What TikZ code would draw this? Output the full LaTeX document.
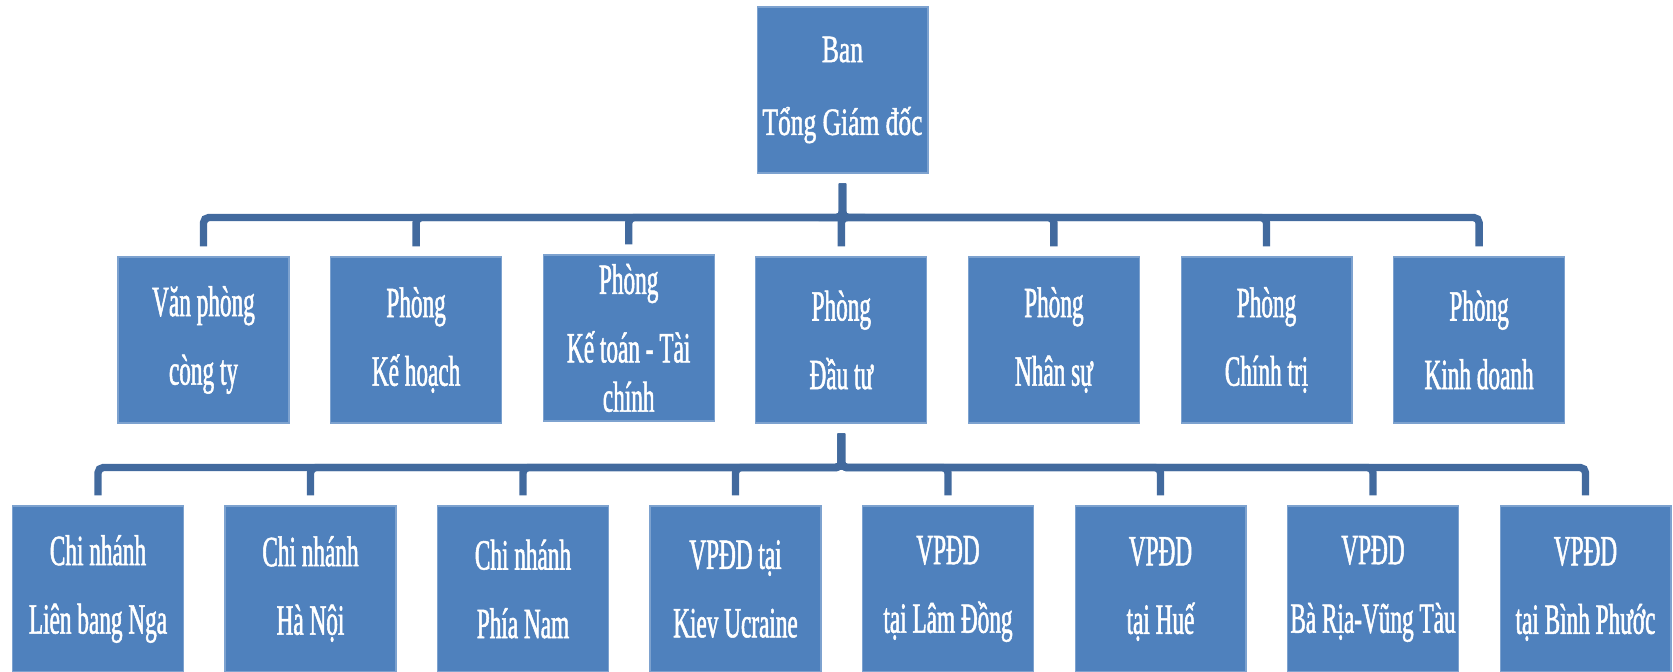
\documentclass[tikz,border=0pt]{standalone}
\usepackage{fontspec}
\usepackage{xcolor}
\usepackage{tikz}
\setmainfont{Liberation Serif}
\newfontfamily\boxfont{Liberation Serif}[FakeStretch=0.54,FakeBold=1.2]
\newfontfamily\topfont{Liberation Serif}[FakeStretch=0.66,FakeBold=1.2]
\definecolor{boxblue}{RGB}{79,129,189}
\definecolor{boxedge}{RGB}{125,162,207}
\definecolor{linkblue}{RGB}{66,106,158}

\begin{document}
\begin{tikzpicture}[x=0.02cm,y=-0.02cm,fill=boxblue,
  unit/.style={rectangle,draw=boxedge,line width=0.6pt,fill,text=white,align=center,
    minimum width=3.42cm,minimum height=3.32cm,inner sep=0pt,
    font=\boxfont\fontsize{24.5pt}{39pt}\selectfont},
  link/.style={draw=linkblue,line width=4.2pt,rounded corners=3pt,
    shorten <=0.2cm,shorten >=0.2cm}]
%\draw[help lines] (0,0) grid[step=100] (1673,672);
\useasboundingbox (0,0) rectangle (1673,672);
\path
(842.5,90) node(bgd) [unit,font=\topfont\fontsize{22pt}{41.5pt}\selectfont] {Ban\\Tổng Giám đốc}
(203.5,340) node(vp) [unit] {Văn phòng\\còng ty}
(416.1,340) node(kh) [unit] {Phòng\\Kế hoạch}
(628.7,338) node(kt) [unit] {Phòng\\Kế toán - Tài\\[-11pt]chính}
(841.3,340) node(dt) [unit] {Phòng\\Đầu tư}
(1053.9,340) node(ns) [unit] {Phòng\\Nhân sự}
(1266.5,340) node(ct) [unit] {Phòng\\Chính trị}
(1479.1,340) node(kd) [unit] {Phòng\\Kinh doanh}
(98,589) node(cnnga) [unit] {Chi nhánh\\Liên bang Nga}
(310.5,589) node(cnhn) [unit] {Chi nhánh\\Hà Nội}
(523,589) node(cnnam) [unit] {Chi nhánh\\Phía Nam}
(735.5,589) node(vpkiev) [unit] {VPĐD tại\\Kiev Ucraine}
(948,589) node(vpld) [unit] {VPĐD\\tại Lâm Đồng}
(1160.5,589) node(vphue) [unit] {VPĐD\\tại Huế}
(1373,589) node(vpbr) [unit] {VPĐD\\Bà Rịa-Vũng Tàu}
(1585.5,589) node(vpbp) [unit] {VPĐD\\tại Bình Phước};
% first level
\draw[link] (bgd.south) -- ++(0,44) -| (vp.north);
\draw[link] (bgd.south) -- ++(0,44) -| (kh.north);
\draw[link] (bgd.south) -- ++(0,44) -| (kt.north);
\draw[link] (bgd.south) -- ++(0,44) -| (dt.north);
\draw[link] (bgd.south) -- ++(0,44) -| (ns.north);
\draw[link] (bgd.south) -- ++(0,44) -| (ct.north);
\draw[link] (bgd.south) -- ++(0,44) -| (kd.north);
% second level
\draw[link] (dt.south) -- ++(0,44) -| (cnnga.north);
\draw[link] (dt.south) -- ++(0,44) -| (cnhn.north);
\draw[link] (dt.south) -- ++(0,44) -| (cnnam.north);
\draw[link] (dt.south) -- ++(0,44) -| (vpkiev.north);
\draw[link] (dt.south) -- ++(0,44) -| (vpld.north);
\draw[link] (dt.south) -- ++(0,44) -| (vphue.north);
\draw[link] (dt.south) -- ++(0,44) -| (vpbr.north);
\draw[link] (dt.south) -- ++(0,44) -| (vpbp.north);
\end{tikzpicture}
\end{document}
